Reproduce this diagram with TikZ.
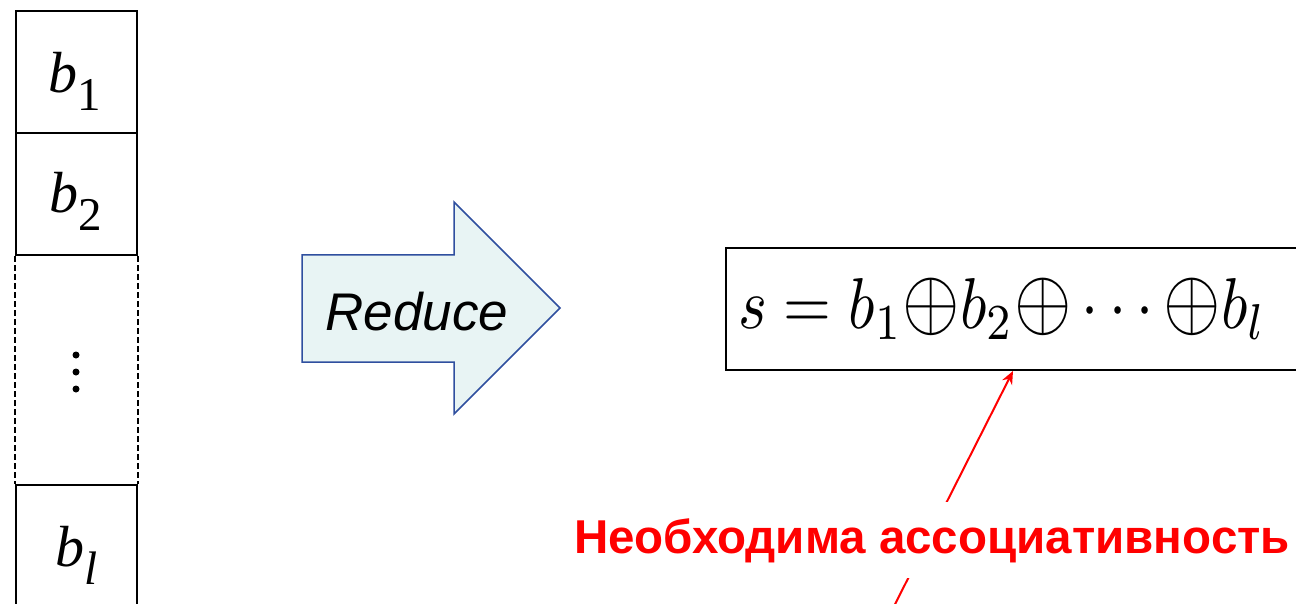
\documentclass[tikz,border=0pt]{standalone}
\usepackage{fontspec}
\usepackage{graphicx}
\setmainfont{Liberation Serif}
\newfontfamily\arialf{Liberation Sans}
\usetikzlibrary{arrows.meta}
\definecolor{arrowfill}{HTML}{E8F4F4}
\definecolor{arrowline}{HTML}{2F4F9F}
\tikzset{
  cell/.style={draw, line width=2pt, minimum width=121pt, minimum height=122pt, inner sep=0pt, anchor=north west},
  btext/.style={font=\fontsize{58}{62}\selectfont, inner sep=0pt, anchor=base},
  dotmark/.style={circle, fill=black, inner sep=0pt, minimum size=7pt},
  sidedash/.style={line width=2pt, dash pattern=on 6pt off 3pt},
  bigarrow/.style={draw=arrowline, fill=arrowfill, line width=1.5pt, line join=miter},
  redlbl/.style={text=red, font=\arialf\bfseries\fontsize{47.5}{50}\selectfont, fill=white, inner xsep=4pt, inner ysep=16pt},
  redarrow/.style={draw=red, line width=2pt, -{Stealth[length=13pt, width=11pt]}}
}
\newcommand{\bsub}[1]{\textit{b}\raisebox{-18pt}{\fontsize{47}{50}\selectfont #1}}
\newcommand{\bigop}{\mathord{\scalebox{1.2}{$\oplus$}}}
\begin{document}
\begin{tikzpicture}[x=1pt, y=-1pt]
\useasboundingbox (0,0) rectangle (1296,604);
\clip (0,0) rectangle (1296,604);
% left column
\node[cell] (b1) at (15,10) {};
\node[cell] (b2) at (15,132) {};
\node[cell, minimum height=140pt] (bl) at (15,484) {};
\node[btext] (b1t) at (75,93) {\bsub{1}};
\node[btext] (b2t) at (76,213) {\bsub{2}};
\node[btext] (blt) at (77,566) {\textit{b}\raisebox{-18pt}{\fontsize{47}{50}\selectfont\textit{l}}};
\draw[sidedash] (b2.south west) -- (bl.north west);
\draw[sidedash] (b2.south east) -- (bl.north east);
\node[dotmark] (d1) at (76,355) {};
\node[dotmark] (d2) at (76,372) {};
\node[dotmark] (d3) at (76,389) {};
% big arrow
\draw[bigarrow] (302,255) -- (454,255) -- (454,202) -- (560,308) -- (454,414) -- (454,362) -- (302,362) -- cycle;
\node[font=\arialf\itshape\fontsize{53}{58}\selectfont, inner sep=0pt] (reduce) at (417,312) {Reduce};
% formula box
\node[draw, line width=2pt, anchor=north west, minimum height=122pt, text width=580pt, inner xsep=12pt, inner ysep=0pt, align=left] (sum) at (725,247)
  {\scalebox{6.15}[7.2]{$s=b_1\bigop b_2\bigop\cdots\bigop b_l$}};
% red annotation
\coordinate (tip) at ([xshift=288pt]sum.south west);
\coordinate (tail) at (885,624);
\draw[redarrow] (tail) -- (tip);
\node[redlbl, anchor=base] (assoc) at (932,553) {Необходима ассоциативность};
\end{tikzpicture}
\end{document}
